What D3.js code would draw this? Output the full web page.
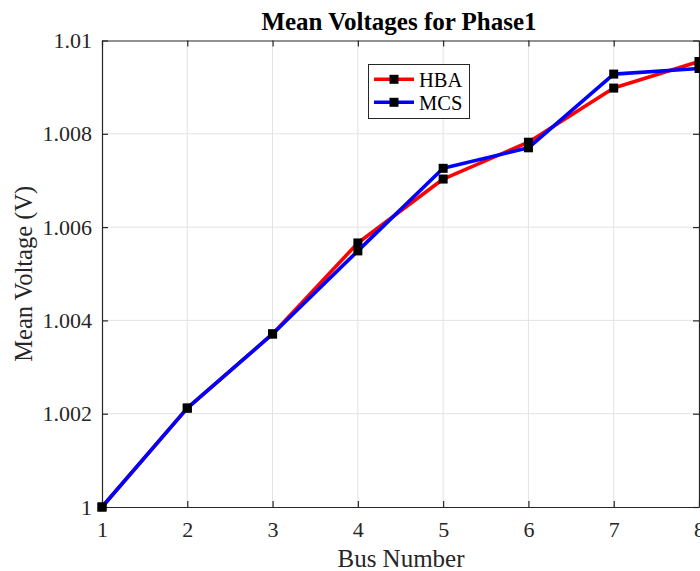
<!DOCTYPE html>
<html><head><meta charset="utf-8">
<script src="https://cdn.jsdelivr.net/npm/d3@7"></script>
<style>body{margin:0;background:#fff;overflow:hidden}svg{display:block}</style>
</head><body>
<svg id="c" width="700" height="571"></svg>
<script>
const buses = [1,2,3,4,5,6,7,8];
const hba = [1.0000,1.00212,1.00371,1.00566,1.00703,1.00782,1.00898,1.00955];
const mcs = [1.0000,1.00212,1.00371,1.00549,1.00726,1.00770,1.00928,1.00940];
const yTicks = [1,1.002,1.004,1.006,1.008,1.01];
const yTickLabels = ["1","1.002","1.004","1.006","1.008","1.01"];
const seriesNames = ["HBA","MCS"];
const seriesColors = ["#ff0000","#0000ff"];

const svg = d3.select("#c");
const L=102, R=699, T=40.5, B=507;
const x = d3.scaleLinear().domain([1,8]).range([L,R]);
const y = d3.scaleLinear().domain([1,1.01]).range([B,T]);
const font = "'Liberation Serif','Times New Roman',serif";

// grid
svg.append("g").selectAll("line").data(buses.slice(1,-1)).join("line")
  .attr("x1",d=>x(d)).attr("x2",d=>x(d)).attr("y1",T).attr("y2",B)
  .attr("stroke","#e3e3e3").attr("stroke-width",1);
svg.append("g").selectAll("line").data(yTicks.slice(1,-1)).join("line")
  .attr("y1",d=>y(d)).attr("y2",d=>y(d)).attr("x1",L).attr("x2",R)
  .attr("stroke","#e3e3e3").attr("stroke-width",1);

// axes
const xAxB = d3.axisBottom(x).tickValues(buses).tickFormat(d3.format("d")).tickSizeInner(-6).tickSizeOuter(0).tickPadding(14);
const xAxT = d3.axisTop(x).tickValues(buses).tickFormat("").tickSizeInner(-6).tickSizeOuter(0);
const yAxL = d3.axisLeft(y).tickValues(yTicks).tickFormat((d,i)=>yTickLabels[i]).tickSizeInner(-6).tickSizeOuter(0).tickPadding(10);
const yAxR = d3.axisRight(y).tickValues(yTicks).tickFormat("").tickSizeInner(-6).tickSizeOuter(0);
function style(g){
  g.select(".domain").attr("stroke","#262626").attr("stroke-width",1.2);
  g.selectAll(".tick line").attr("stroke","#262626").attr("stroke-width",1.2);
  g.selectAll(".tick text").attr("font-family",font).attr("font-size",22).attr("fill","#262626");
}
svg.append("g").attr("transform",`translate(0,${B})`).call(xAxB).call(style);
svg.append("g").attr("transform",`translate(0,${T})`).call(xAxT).call(style);
svg.append("g").attr("transform",`translate(${L},0)`).call(yAxL).call(style);
svg.append("g").attr("transform",`translate(${R},0)`).call(yAxR).call(style);

// lines
const series = [hba, mcs];
const line = d3.line().x((d,i)=>x(buses[i])).y(d=>y(d));
series.forEach((s,k)=>{
  svg.append("path").datum(s).attr("d",line).attr("fill","none")
    .attr("stroke",seriesColors[k]).attr("stroke-width",3.6).attr("stroke-linejoin","round");
  svg.append("g").selectAll("rect").data(s).join("rect")
    .attr("x",(d,i)=>x(buses[i])-4.5).attr("y",d=>y(d)-4.5)
    .attr("width",9).attr("height",9).attr("fill","#000");
});

// title & labels
svg.append("text").attr("x",399).attr("y",30).attr("text-anchor","middle")
  .attr("font-family",font).attr("font-weight","bold").attr("font-size",25).attr("fill","#000")
  .text("Mean Voltages for Phase1");
svg.append("text").attr("x",401).attr("y",567).attr("text-anchor","middle")
  .attr("font-family",font).attr("font-size",25).attr("fill","#262626").text("Bus Number");
svg.append("text").attr("transform",`translate(32,${(T+B)/2}) rotate(-90)`).attr("text-anchor","middle")
  .attr("font-family",font).attr("font-size",24.5).attr("fill","#262626").text("Mean Voltage (V)");

// legend
const lg = svg.append("g");
lg.append("rect").attr("x",368.5).attr("y",64.5).attr("width",101).attr("height",54)
  .attr("fill","#fff").attr("stroke","#262626").attr("stroke-width",1);
seriesNames.forEach((n,k)=>{
  const yy = 79.3 + k*23;
  lg.append("line").attr("x1",374).attr("x2",414).attr("y1",yy).attr("y2",yy)
    .attr("stroke",seriesColors[k]).attr("stroke-width",3.6);
  lg.append("rect").attr("x",389.5).attr("y",yy-4.5).attr("width",9).attr("height",9).attr("fill","#000");
  lg.append("text").attr("x",419).attr("y",yy+7.5).attr("font-family",font).attr("font-size",20.5)
    .attr("fill","#000").text(n);
});
</script>
</body></html>
